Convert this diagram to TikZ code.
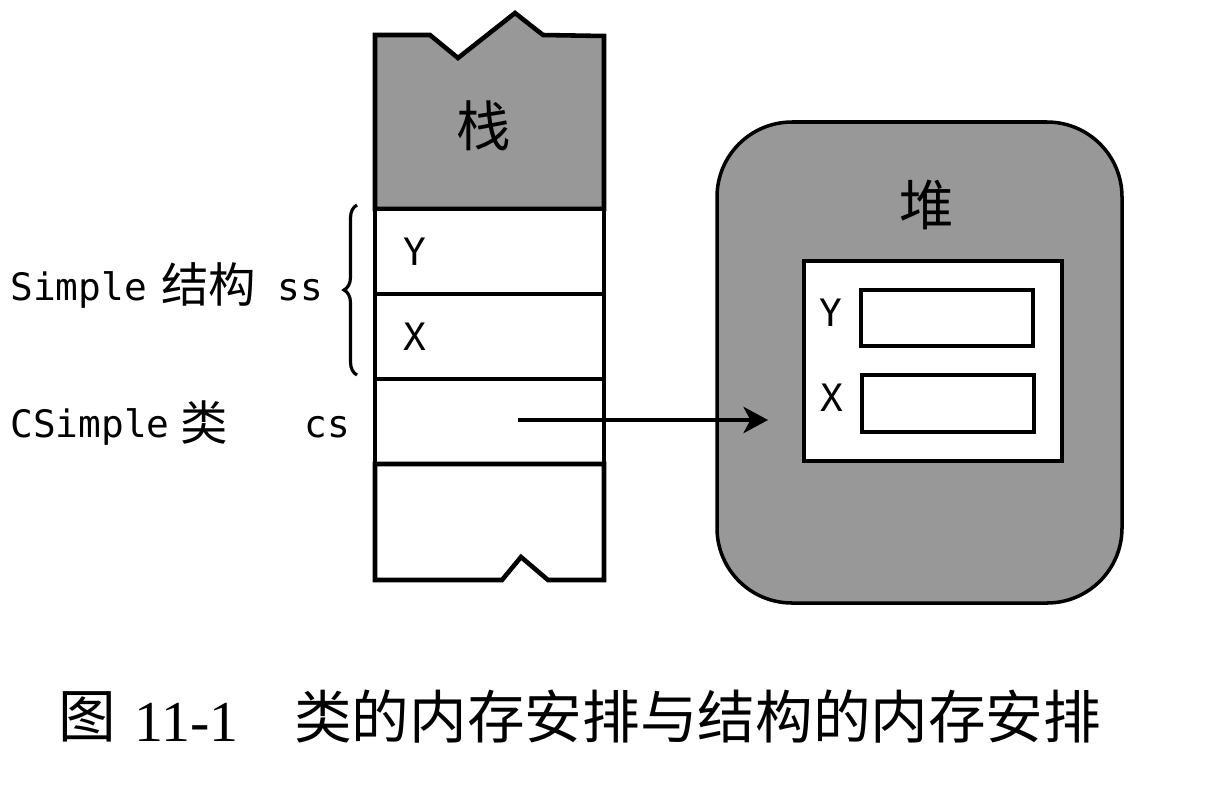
\documentclass[tikz,border=0pt]{standalone}
\usepackage{fontspec}
\setmainfont{Liberation Serif}
\newfontfamily\monof{DejaVu Sans Mono}
\newfontfamily\cjk{Noto Sans CJK SC}
\usetikzlibrary{arrows.meta,decorations.pathreplacing}
\definecolor{boxgray}{RGB}{152,152,152}
\tikzset{
  stackline/.style={line width=2.6pt, line join=miter},
  heapline/.style={line width=2pt},
  monolabel/.style={font=\monof\fontsize{21.5}{24}\selectfont, inner sep=0pt},
  cjklabel/.style={font=\cjk\fontsize{27}{30}\selectfont, inner sep=0pt},
  bigcjk/.style={font=\cjk\fontsize{31}{34}\selectfont, inner sep=0pt},
  captioncjk/.style={font=\cjk\fontsize{32.8}{36}\selectfont, inner sep=0pt},
  captionnum/.style={font=\fontsize{33}{36}\selectfont, inner sep=0pt},
  pointer/.style={line width=2pt, -{Stealth[length=14pt,width=15pt,inset=4pt]}},
  bracestyle/.style={line width=1.8pt, decorate, decoration={brace, amplitude=0.26cm}}
}
\begin{document}
\begin{tikzpicture}[x=0.02cm,y=-0.02cm]
\useasboundingbox[fill=white] (0,0) rectangle (1217,795);

% ---- stack ----
\draw[stackline, fill=boxgray] (375,209) -- (375,35) -- (430,35) -- (458,58) -- (515,13) -- (543,35) -- (604,36) -- (604,209) -- cycle;
\draw[stackline, fill=white] (375,209) rectangle (604,294);
\draw[stackline, fill=white] (375,294) rectangle (604,379);
\draw[stackline, fill=white] (375,379) rectangle (604,464);
\draw[stackline, fill=white] (375,464) -- (375,580) -- (502,580) -- (521,557) -- (548,580) -- (604,580) -- (604,464) -- cycle;

\node[bigcjk] (stacklbl) at (484,126) {栈};
\node[monolabel] (sy) at (415,252) {Y};
\node[monolabel] (sx) at (415,337) {X};

% brace and left labels
\coordinate (bracebot) at (357,375);
\coordinate (bracetop) at (357,205);
\draw[bracestyle] (bracebot) -- (bracetop);

\node[monolabel, anchor=base west] (simple) at (10,300) {Simple};
\node[cjklabel, anchor=base west] (jiegou) at (161,302) {结构};
\node[monolabel, anchor=base west] (ss) at (277,300) {ss};

\node[monolabel, anchor=base west] (csimple) at (10,437) {CSimple};
\node[cjklabel, anchor=base west] (lei) at (180,440) {类};
\node[monolabel, anchor=base west] (cs) at (304,437) {cs};

% ---- heap ----
\draw[heapline, fill=boxgray, rounded corners=1.5cm] (717,122) rectangle (1122,603);
\node[bigcjk] (heaplbl) at (927,205) {堆};
\draw[heapline, line width=2.2pt, fill=white] (804,261) rectangle (1062,461);
\draw[heapline, line width=2.4pt, fill=white] (861,290) rectangle (1033,346);
\draw[heapline, line width=2.4pt, fill=white] (862,375) rectangle (1034,432);
\node[monolabel] (hy) at (831,313) {Y};
\node[monolabel] (hx) at (832,398) {X};

% pointer
\coordinate (csptr) at (518,420);
\coordinate (heapin) at (768,420);
\draw[pointer] (csptr) -- (heapin);

% ---- caption ----
\node[captioncjk] (tu) at (87,717) {图};
\node[captionnum, anchor=base west] (num) at (134,741) {11-1};
\node[captioncjk, anchor=west] (cap) at (294,717) {类的内存安排与结构的内存安排};
\end{tikzpicture}
\end{document}
